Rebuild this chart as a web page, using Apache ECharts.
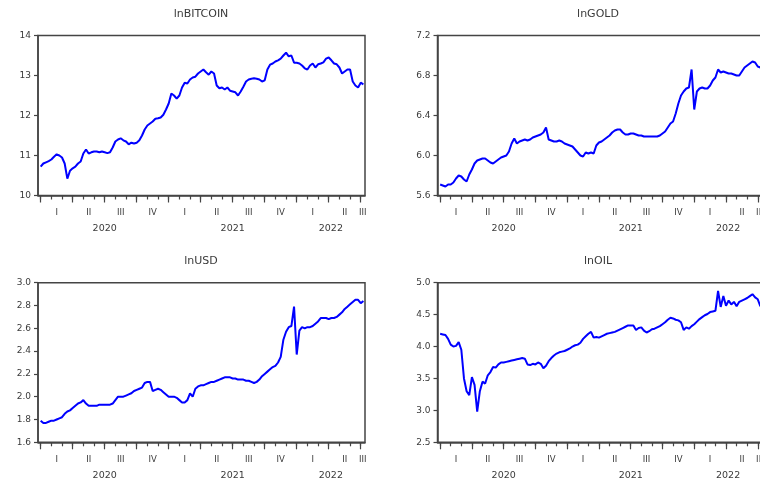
<!DOCTYPE html>
<html><head><meta charset="utf-8">
<script src="https://cdn.jsdelivr.net/npm/echarts@6/dist/echarts.min.js"></script>
<style>html,body{margin:0;padding:0;background:#fff}#c{width:760px;height:479px}</style>
</head><body><div id="c"></div>
<script>
// x = months since 1 Jan 2020, one observation every quarter month (~weekly)
const monthStep = 0.25;

const btc = [
 10.72,10.80,10.83,10.86,10.90,10.97,11.03,11.00,10.95,10.80,10.42,10.62,
 10.68,10.72,10.80,10.85,11.05,11.15,11.05,11.08,11.10,11.10,11.08,11.10,
 11.08,11.06,11.08,11.20,11.35,11.40,11.43,11.38,11.35,11.28,11.32,11.30,
 11.32,11.38,11.50,11.65,11.75,11.80,11.85,11.92,11.93,11.95,12.02,12.15,
 12.30,12.55,12.50,12.42,12.50,12.70,12.82,12.80,12.90,12.95,12.97,13.05,
 13.10,13.15,13.08,13.02,13.10,13.05,12.75,12.68,12.70,12.65,12.70,12.62,
 12.60,12.58,12.50,12.60,12.72,12.85,12.90,12.92,12.93,12.92,12.90,12.85,
 12.88,13.15,13.27,13.30,13.35,13.38,13.42,13.50,13.57,13.48,13.50,13.32,
 13.32,13.30,13.25,13.18,13.15,13.25,13.30,13.20,13.28,13.30,13.33,13.42,
 13.45,13.38,13.30,13.28,13.20,13.05,13.10,13.15,13.15,12.85,12.75,12.70,
 12.82,12.78
];
const gold = [
 5.71,5.70,5.69,5.71,5.71,5.73,5.77,5.80,5.79,5.76,5.74,5.81,
 5.86,5.92,5.95,5.96,5.97,5.97,5.95,5.93,5.92,5.94,5.96,5.98,
 5.99,6.00,6.04,6.12,6.17,6.12,6.14,6.15,6.16,6.15,6.16,6.18,
 6.19,6.20,6.21,6.23,6.28,6.16,6.15,6.14,6.14,6.15,6.14,6.12,
 6.11,6.10,6.09,6.06,6.03,6.00,5.99,6.03,6.02,6.03,6.02,6.10,
 6.13,6.14,6.16,6.18,6.20,6.23,6.25,6.26,6.26,6.23,6.21,6.21,
 6.22,6.22,6.21,6.20,6.20,6.19,6.19,6.19,6.19,6.19,6.19,6.20,
 6.22,6.24,6.28,6.32,6.34,6.42,6.52,6.60,6.64,6.67,6.68,6.86,
 6.46,6.64,6.67,6.68,6.67,6.67,6.70,6.75,6.78,6.86,6.83,6.84,
 6.83,6.82,6.82,6.81,6.80,6.80,6.84,6.88,6.90,6.92,6.94,6.93,
 6.89,6.88
];
const usd = [
 1.79,1.77,1.77,1.78,1.79,1.79,1.80,1.81,1.82,1.85,1.87,1.88,
 1.90,1.92,1.94,1.95,1.97,1.94,1.92,1.92,1.92,1.92,1.93,1.93,
 1.93,1.93,1.93,1.94,1.97,2.00,2.00,2.00,2.01,2.02,2.03,2.05,
 2.06,2.07,2.08,2.12,2.13,2.13,2.05,2.06,2.07,2.06,2.04,2.02,
 2.00,2.00,2.00,1.99,1.97,1.95,1.95,1.97,2.03,2.00,2.07,2.09,
 2.10,2.10,2.11,2.12,2.13,2.13,2.14,2.15,2.16,2.17,2.17,2.17,
 2.16,2.16,2.15,2.15,2.15,2.14,2.14,2.13,2.12,2.13,2.15,2.18,
 2.20,2.22,2.24,2.26,2.27,2.30,2.35,2.50,2.57,2.61,2.62,2.79,
 2.37,2.58,2.61,2.60,2.61,2.61,2.62,2.64,2.66,2.69,2.69,2.69,
 2.68,2.69,2.69,2.70,2.72,2.74,2.77,2.79,2.81,2.83,2.85,2.85,
 2.82,2.84
];
const oil = [
 4.20,4.19,4.18,4.12,4.03,4.00,4.01,4.07,3.95,3.50,3.30,3.24,
 3.52,3.40,2.98,3.30,3.45,3.42,3.55,3.60,3.68,3.67,3.72,3.75,
 3.75,3.76,3.77,3.78,3.79,3.80,3.81,3.82,3.81,3.72,3.71,3.73,
 3.72,3.75,3.73,3.66,3.70,3.77,3.82,3.86,3.89,3.91,3.92,3.93,
 3.95,3.97,4.00,4.02,4.03,4.06,4.12,4.16,4.20,4.23,4.14,4.15,
 4.14,4.16,4.18,4.20,4.21,4.22,4.23,4.25,4.27,4.29,4.31,4.33,
 4.33,4.33,4.26,4.29,4.30,4.25,4.22,4.24,4.27,4.28,4.30,4.32,
 4.35,4.38,4.42,4.45,4.44,4.42,4.41,4.38,4.26,4.30,4.28,4.32,
 4.35,4.39,4.43,4.46,4.49,4.51,4.54,4.55,4.56,4.87,4.62,4.79,
 4.64,4.72,4.66,4.70,4.63,4.70,4.72,4.74,4.76,4.79,4.82,4.77,
 4.74,4.63
];

const titles = ['lnBITCOIN', 'lnGOLD', 'lnUSD', 'lnOIL'];
const quarterLabels = ['I','II','III','IV','I','II','III','IV','I','II','III'];
const quarterCenters = [1.5,4.5,7.5,10.5,13.5,16.5,19.5,22.5,25.5,28.5,30.2];
const yearLabels = ['2020','2021','2022'];
const yearCenters = [6, 18, 27.2];
const monthTicks = [0,1,2,3,4,5,6,7,8,9,10,11,12,13,14,15,16,17,18,19,20,21,22,23,24,25,26,27,28,29,30];
const quarterTicks = [0,3,6,9,12,15,18,21,24,27,30];
const yRanges = [
  {min:10, max:14, interval:1, dec:0},
  {min:5.6, max:7.2, interval:0.4, dec:1},
  {min:1.6, max:3.0, interval:0.2, dec:1},
  {min:2.5, max:5.0, interval:0.5, dec:1}
];
const seriesData = [btc, gold, usd, oil];

const X_MIN = -0.25, X_MAX = 30.4;
const FONT = 'DejaVu Sans';
const AX = '#444';
const TXT = '#3a3a3a';

const grids = [
  {left:38,    top:35.5,  width:327,   height:160},
  {left:437.5, top:35.5,  width:324.5, height:160},
  {left:38,    top:282.7, width:327,   height:159.6},
  {left:437.5, top:282.7, width:324.5, height:159.6}
];
const titleCenters = [201, 598, 201, 598];

const option = {
  animation: false,
  backgroundColor: '#fff',
  textStyle: {fontFamily: FONT},
  title: grids.map((g, k) => ({
    text: titles[k],
    left: titleCenters[k],
    textAlign: 'center',
    top: g.top - 27,
    padding: 0,
    textStyle: {fontFamily: FONT, fontSize: 11, fontWeight: 'normal', color: TXT}
  })),
  grid: grids.map(g => Object.assign({show: true, borderColor: AX, borderWidth: 1.5, containLabel: false, outerBoundsMode: 'none'}, g)),
  xAxis: [],
  yAxis: [],
  series: []
};

grids.forEach((g, k) => {
  // data axis with monthly ticks
  option.xAxis.push({
    type: 'value', gridIndex: k, position: 'bottom', min: X_MIN, max: X_MAX,
    axisLine: {show: true, onZero: false, lineStyle: {color: AX, width: 1.5}},
    axisTick: {show: true, inside: false, length: 4, customValues: monthTicks, lineStyle: {color: AX, width: 1.2}},
    axisLabel: {show: false},
    splitLine: {show: false}
  });
  // quarter axis
  option.xAxis.push({
    type: 'value', gridIndex: k, position: 'bottom', min: X_MIN, max: X_MAX,
    axisLine: {show: false, onZero: false},
    axisTick: {show: true, inside: false, length: 7, customValues: quarterTicks, lineStyle: {color: AX, width: 1.2}},
    axisLabel: {
      show: true, customValues: quarterCenters, margin: 13,
      fontFamily: FONT, fontSize: 8.5, color: TXT,
      formatter: v => { const i = quarterCenters.findIndex(c => Math.abs(c - v) < 1e-6); return i >= 0 ? quarterLabels[i] : ''; }
    },
    splitLine: {show: false}
  });
  // year axis
  option.xAxis.push({
    type: 'value', gridIndex: k, position: 'bottom', min: X_MIN, max: X_MAX,
    axisLine: {show: false, onZero: false},
    axisTick: {show: false},
    axisLabel: {
      show: true, customValues: yearCenters, margin: 28,
      fontFamily: FONT, fontSize: 9.5, color: TXT,
      formatter: v => { const i = yearCenters.findIndex(c => Math.abs(c - v) < 1e-6); return i >= 0 ? yearLabels[i] : ''; }
    },
    splitLine: {show: false}
  });
  const r = yRanges[k];
  option.yAxis.push({
    type: 'value', gridIndex: k, min: r.min, max: r.max, interval: r.interval,
    axisLine: {show: true, onZero: false, lineStyle: {color: AX, width: 1.5}},
    axisTick: {show: true, inside: false, length: 4, lineStyle: {color: AX, width: 1.2}},
    axisLabel: {margin: 7, fontFamily: FONT, fontSize: 9, color: TXT, formatter: v => v.toFixed(r.dec)},
    splitLine: {show: false}
  });
  option.series.push({
    type: 'line', xAxisIndex: 3 * k, yAxisIndex: k,
    showSymbol: false, symbol: 'none',
    lineStyle: {color: '#0000ff', width: 2},
    data: seriesData[k].map((v, i) => [i * monthStep, v])
  });
});

const chart = echarts.init(document.getElementById('c'), null, {renderer: 'canvas'});
chart.setOption(option);
</script>
</body></html>
